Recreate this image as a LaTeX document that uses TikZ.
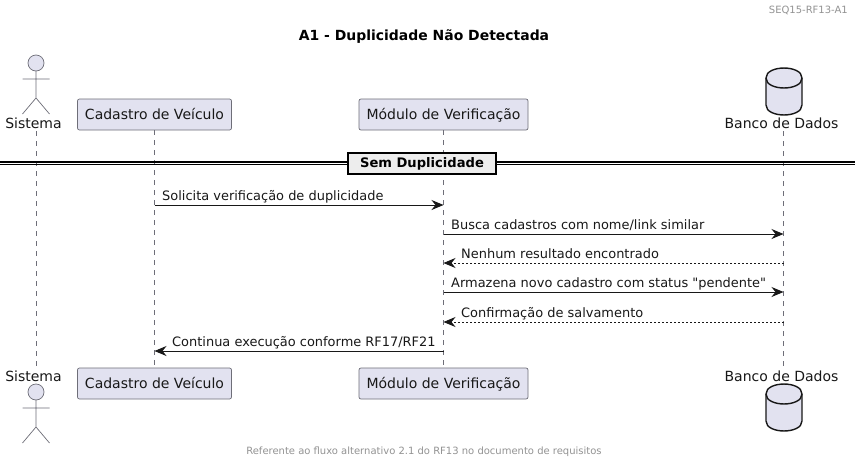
\documentclass[tikz,border=0pt]{standalone}
\usepackage{fontspec}
\setmainfont{DejaVu Sans}
\newfontfamily\plainfont{DejaVu Sans}
\usetikzlibrary{arrows.meta}
\definecolor{pfill}{HTML}{E2E2F0}
\definecolor{pline}{HTML}{181818}
\definecolor{pedge}{HTML}{6E6E78}
\tikzset{
  part/.style={draw=pedge,fill=pfill,rounded corners=2pt,line width=.7pt,minimum height=31pt,inner sep=0pt,text height=10.5pt,text depth=0pt,font=\fontsize{14}{16}\selectfont,text=pline},
  plabel/.style={inner sep=0pt,text height=10.5pt,text depth=0pt,font=\fontsize{14}{16}\selectfont,text=pline},
  life/.style={draw=pedge,line width=.7pt,dash pattern=on 5pt off 5pt},
  stick/.style={draw=pedge,line width=.7pt},
  msg/.style={draw=pline,line width=.9pt,-{Stealth[length=12pt,width=10pt,inset=4pt]}},
  rmsg/.style={msg,line width=.8pt,dash pattern=on 2pt off 2pt},
  mlabel/.style={anchor=base west,inner sep=0pt,font=\fontsize{12.95}{15}\selectfont,text=pline},
  small/.style={inner sep=0pt,font=\fontsize{10}{12}\selectfont,text=gray!85!white},
}
\newcommand{\myactor}[2]{%
  \draw[stick,fill=pfill] (#1,#2+8) circle (8);
  \draw[stick] (#1,#2+16) -- (#1,#2+43) (#1-13.5,#2+24) -- (#1+13.5,#2+24)
    (#1-13.5,#2+59) -- (#1,#2+43) -- (#1+13.5,#2+59);}
\newcommand{\mydb}[2]{%
  \draw[draw=pline,fill=pfill,line width=1.4pt] (#1-18,#2+10) .. controls (#1-18,#2-3.3) and (#1+18,#2-3.3) .. (#1+18,#2+10)
    -- (#1+18,#2+37) .. controls (#1+18,#2+50.3) and (#1-18,#2+50.3) .. (#1-18,#2+37) -- cycle;
  \draw[draw=pline,line width=1.4pt] (#1-18,#2+10) .. controls (#1-18,#2+23.3) and (#1+18,#2+23.3) .. (#1+18,#2+10);}
\begin{document}
\begin{tikzpicture}[x=1pt,y=-1pt]
\useasboundingbox (0,0) rectangle (855,464);
\fill[white] (0,0) rectangle (855,464);
\coordinate (sT) at (36,131); \coordinate (sB) at (36,367);
\coordinate (dT) at (783.5,131); \coordinate (dB) at (783.5,367);
\node[part,minimum width=154pt] (cadT) at (154.5,114.5) {Cadastro de Veículo};
\node[part,minimum width=169pt] (modT) at (443.5,114.5) {Módulo de Verificação};
\node[part,minimum width=154pt] (cadB) at (154.5,383.5) {Cadastro de Veículo};
\node[part,minimum width=169pt] (modB) at (443.5,383.5) {Módulo de Verificação};
\draw[life] (sT) -- (sB);
\draw[life] (cadT) -- (cadB);
\draw[life] (modT) -- (modB);
\draw[life] (dT) -- (dB);
\myactor{36}{55}
\myactor{36}{384}
\mydb{784}{68}
\mydb{784}{384}
\node[plabel] (sisT) at (33.5,123) {Sistema};
\node[plabel] (sisB) at (33.5,376) {Sistema};
\node[plabel] (banT) at (781.5,123) {Banco de Dados};
\node[plabel] (banB) at (781.5,376) {Banco de Dados};
\node[inner sep=0pt,font=\bfseries\fontsize{13.95}{16}\selectfont] (title) at (424,36.5) {A1 - Duplicidade Não Detectada};
\node[small,anchor=east] (hdr) at (848,10) {SEQ15-RF13-A1};
\node[small] (ftr) at (424,451.5) {Referente ao fluxo alternativo 2.1 do RF13 no documento de requisitos};
\draw[draw=black,line width=1.1pt] (0,162) -- (855,162) (0,164.5) -- (855,164.5);
\node[draw=black,fill=black!7,line width=1.4pt,minimum width=148pt,minimum height=21pt,inner sep=0pt,font=\bfseries\fontsize{13.1}{15}\selectfont] (div) at (422,163.5) {Sem Duplicidade};
\coordinate (c1) at (154.5,205); \coordinate (m1) at (443.5,205);
\coordinate (m2) at (443.5,234); \coordinate (d2) at (783.5,234);
\coordinate (m3) at (443.5,263); \coordinate (d3) at (783.5,263);
\coordinate (m4) at (443.5,292); \coordinate (d4) at (783.5,292);
\coordinate (m5) at (443.5,322); \coordinate (d5) at (783.5,322);
\coordinate (m6) at (443.5,351); \coordinate (c6) at (154.5,351);
\draw[msg] (c1) -- (m1);
\draw[msg] (m2) -- (d2);
\draw[rmsg] (d3) -- (m3);
\draw[msg] (m4) -- (d4);
\draw[rmsg] (d5) -- (m5);
\draw[msg] (m6) -- (c6);
\node[mlabel] (t1) at (162,200) {Solicita verificação de duplicidade};
\node[mlabel] (t2) at (451,229) {Busca cadastros com nome/link similar};
\node[mlabel] (t3) at (461,258.5) {Nenhum resultado encontrado};
\node[mlabel] (t4) at (451,287.5) {Armazena novo cadastro com status {\plainfont"}pendente{\plainfont"}};
\node[mlabel] (t5) at (461,317) {Confirmação de salvamento};
\node[mlabel] (t6) at (172,346) {Continua execução conforme RF17/RF21};
\end{tikzpicture}
\end{document}
